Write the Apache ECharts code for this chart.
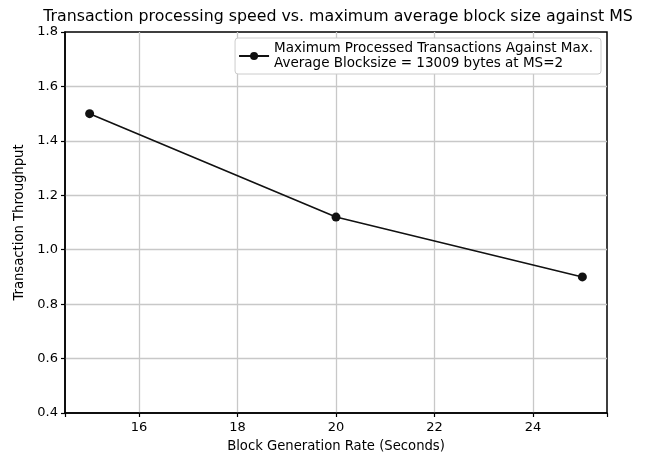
<!DOCTYPE html>
<html>
<head>
<meta charset="utf-8">
<script src="https://cdn.jsdelivr.net/npm/echarts@6/dist/echarts.min.js"></script>
<style>
  html, body { margin: 0; padding: 0; background: #fff; }
  #chart { width: 645px; height: 458px; }
</style>
</head>
<body>
<div id="chart"></div>
<script>
// data
const blockRates = [15, 20, 25];
const throughput = [1.5, 1.12, 0.9];
const seriesName = "Maximum Processed Transactions Against Max.\nAverage Blocksize = 13009 bytes at MS=2";
const yTicks = [0.4, 0.6, 0.8, 1.0, 1.2, 1.4, 1.6, 1.8];

const font = "DejaVu Sans";
const chart = echarts.init(document.getElementById("chart"));

chart.setOption({
  animation: false,
  textStyle: { fontFamily: font, color: "#000" },
  title: {
    text: "Transaction processing speed vs. maximum average block size against MS",
    left: 333,
    textAlign: "center",
    top: 4,
    textStyle: { fontFamily: font, fontSize: 15.8, fontWeight: "normal", color: "#000" },
  },
  grid: {
    left: 65,
    right: 38,
    top: 32,
    bottom: 45,
    show: true,
    borderColor: "#000",
    borderWidth: 1.5,
    backgroundColor: "#fff",
  },
  legend: {
    right: 44,
    top: 38,
    orient: "vertical",
    padding: [3, 8, 3, 3],
    itemWidth: 30,
    itemHeight: 10,
    itemGap: 0,
    backgroundColor: "#fff",
    borderColor: "#ccc",
    borderWidth: 1,
    borderRadius: 3,
    textStyle: { fontFamily: font, fontSize: 13.5, color: "#000", lineHeight: 15 },
    data: [seriesName],
  },
  xAxis: {
    type: "value",
    min: 14.5,
    max: 25.5,
    splitNumber: 5,
    name: "Block Generation Rate (Seconds)",
    nameLocation: "middle",
    nameGap: 27,
    nameTextStyle: { fontFamily: font, fontSize: 13.2, color: "#000" },
    axisLine: { show: true, lineStyle: { color: "#000", width: 1.5 } },
    axisTick: { show: true, length: 4, lineStyle: { color: "#000", width: 1.2 } },
    axisLabel: {
      fontFamily: font,
      fontSize: 13,
      color: "#000",
      margin: 8,
      formatter: (v) => (v % 2 === 0 ? String(v) : ""),
    },
    splitLine: {
      show: true,
      showMinLine: false,
      showMaxLine: false,
      lineStyle: { color: "#c8c8c8", width: 1.3 },
    },
  },
  yAxis: {
    type: "value",
    min: yTicks[0],
    max: yTicks[yTicks.length - 1],
    interval: 0.2,
    name: "Transaction Throughput",
    nameLocation: "middle",
    nameGap: 38,
    nameTextStyle: { fontFamily: font, fontSize: 13.2, color: "#000" },
    axisLine: { show: true, lineStyle: { color: "#000", width: 1.5 } },
    axisTick: { show: true, length: 4, lineStyle: { color: "#000", width: 1.2 } },
    axisLabel: {
      fontFamily: font,
      fontSize: 13,
      color: "#000",
      margin: 7,
      formatter: (v) => v.toFixed(1),
    },
    splitLine: {
      show: true,
      showMinLine: false,
      showMaxLine: false,
      lineStyle: { color: "#c8c8c8", width: 1.3 },
    },
  },
  series: [
    {
      name: seriesName,
      type: "line",
      data: blockRates.map((x, i) => [x, throughput[i]]),
      symbol: "circle",
      symbolSize: 9,
      itemStyle: { color: "#111" },
      lineStyle: { color: "#111", width: 1.6 },
    },
  ],
});
</script>
</body>
</html>
